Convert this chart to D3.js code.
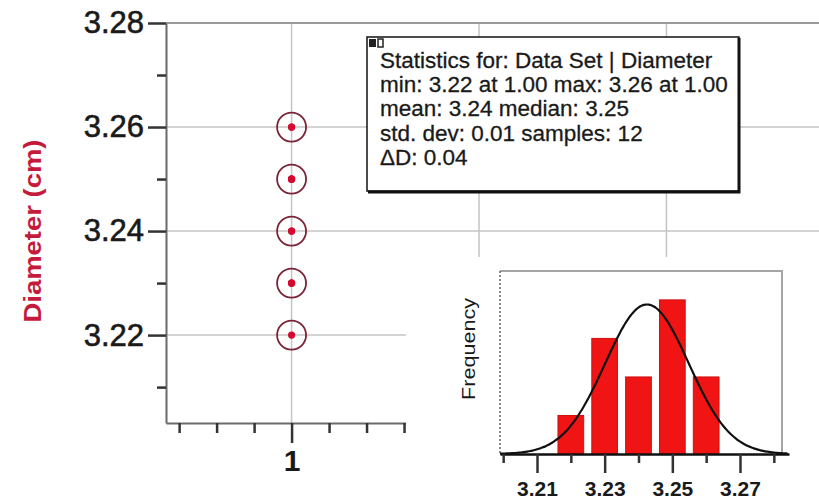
<html>
  <head>
    <meta charset="utf-8">
    <title>Diameter statistics</title>
  </head>
<style>
  body { margin: 0; background: #fff; }
  text { font-family: "Liberation Sans", Arial, sans-serif; }
</style>
  <body>
    <script src="https://d3js.org/d3.v7.min.js" charset="utf-8"></script>
    <script>

    var width = 819,
        height = 502;

    // 12 measurements, all taken at run 1
    var runs = [1, 1, 1, 1, 1, 1, 1, 1, 1, 1, 1, 1];
    var diameters = [3.22, 3.23, 3.23, 3.23, 3.24, 3.24, 3.25, 3.25, 3.25, 3.25, 3.26, 3.26];

    // histogram of the same data
    var binCenters = [3.22, 3.23, 3.24, 3.25, 3.26];
    var binCounts = [1, 3, 2, 4, 2];
    var binWidth = 0.01;

    var yMajor = [3.22, 3.24, 3.26, 3.28];
    var yMinor = [3.21, 3.23, 3.25, 3.27];
    var xTicks = [0.7, 0.8, 0.9, 1.0, 1.1, 1.2, 1.3];
    var xGrid = [1.0, 1.5, 2.0];
    var hMajor = [3.21, 3.23, 3.25, 3.27];
    var hMinor = [3.20, 3.22, 3.24, 3.26, 3.28];

    var statsLines = [
      "Statistics for: Data Set | Diameter",
      "min: 3.22 at 1.00 max: 3.26 at 1.00",
      "mean: 3.24 median: 3.25",
      "std. dev: 0.01 samples: 12",
      "\u0394D: 0.04"
    ];

    var svg = d3.select("body").append("svg")
        .attr("width", width)
        .attr("height", height);

    var x = d3.scaleLinear().domain([0.665, 2.415]).range([166, 822]);
    var y = d3.scaleLinear().domain([3.2031, 3.28]).range([423, 23]);

    // grid
    svg.selectAll(".hgrid").data(yMajor.slice(0, 3)).enter().append("line")
        .attr("x1", 166).attr("x2", width)
        .attr("y1", function(d){ return y(d); }).attr("y2", function(d){ return y(d); })
        .attr("stroke", "#c4c4c4").attr("stroke-width", 1.5);
    svg.selectAll(".vgrid").data(xGrid).enter().append("line")
        .attr("x1", function(d){ return x(d); }).attr("x2", function(d){ return x(d); })
        .attr("y1", 23).attr("y2", 423)
        .attr("stroke", "#c4c4c4").attr("stroke-width", 1.5);
    svg.append("line")
        .attr("x1", 166).attr("x2", width).attr("y1", 23).attr("y2", 23)
        .attr("stroke", "#9a9a9a").attr("stroke-width", 2);

    // y axis
    var yAxis = svg.append("g").attr("transform", "translate(166,0)")
        .call(d3.axisLeft(y).tickValues(yMajor).tickFormat(d3.format(".2f")).tickSize(18).tickSizeOuter(0));
    svg.append("g").attr("transform", "translate(166,0)")
        .call(d3.axisLeft(y).tickValues(yMinor).tickFormat("").tickSize(9).tickSizeOuter(0))
        .select(".domain").remove();
    yAxis.selectAll("text").attr("font-size", 31).attr("fill", "#1a1a1a").attr("dx", "-1")
        .attr("stroke", "#1a1a1a").attr("stroke-width", 0.6);

    // x axis
    var xa = x.copy().domain([0.665, 1.306]).range([166, x(1.306)]);
    var xAxis = svg.append("g").attr("transform", "translate(0,423)")
        .call(d3.axisBottom(xa).tickValues(xTicks).tickSize(10).tickSizeOuter(0)
          .tickFormat(function(d){ return d === 1 ? "1" : ""; }));
    xAxis.selectAll(".tick line").attr("y2", function(d){ return d === 1 ? 20 : 10; });
    xAxis.selectAll("text").attr("font-size", 30).attr("font-weight", "bold").attr("fill", "#1a1a1a").attr("dy", "1.15em");

    svg.selectAll(".domain").attr("stroke", "#6a6a6a").attr("stroke-width", 2);
    svg.selectAll(".tick line").attr("stroke", "#333").attr("stroke-width", 2.5);

    svg.append("text")
        .attr("transform", "translate(41,231) rotate(-90)")
        .attr("text-anchor", "middle")
        .attr("font-size", 24).attr("font-weight", "bold")
        .attr("textLength", 183).attr("lengthAdjust", "spacingAndGlyphs")
        .attr("fill", "#c41a3c")
        .text("Diameter (cm)");

    // points (repeated values sit on top of each other)
    var uniq = Array.from(new Set(diameters));
    svg.selectAll(".ring").data(uniq).enter().append("circle")
        .attr("cx", x(runs[0]))
        .attr("cy", function(d){ return y(d); })
        .attr("r", 14.5)
        .attr("fill", "none").attr("stroke", "#7a2438").attr("stroke-width", 1.8);
    svg.selectAll(".dot").data(diameters).enter().append("circle")
        .attr("cx", function(d, i){ return x(runs[i]); })
        .attr("cy", function(d){ return y(d); })
        .attr("r", 3.6)
        .attr("fill", "#d20a30");

    // stats box
    var box = svg.append("g");
    box.append("rect").attr("x", 367).attr("y", 37).attr("width", 372).attr("height", 154)
        .attr("fill", "#fff").attr("stroke", "#111").attr("stroke-width", 1.5);
    box.append("path").attr("d", "M739,38 V192 H368")
        .attr("fill", "none").attr("stroke", "#111").attr("stroke-width", 3);
    box.append("rect").attr("x", 369).attr("y", 39).attr("width", 7).attr("height", 8).attr("fill", "#222");
    box.append("rect").attr("x", 378).attr("y", 39).attr("width", 5).attr("height", 8)
        .attr("fill", "#fff").attr("stroke", "#222").attr("stroke-width", 1.5);
    box.selectAll(".sline").data(statsLines).enter().append("text")
        .attr("x", 380)
        .attr("y", function(d, i){ return 68 + i * 24.2; })
        .attr("font-size", 22.5).attr("fill", "#1a1a1a")
        .attr("stroke", "#1a1a1a").attr("stroke-width", 0.3)
        .text(function(d){ return d; });

    // histogram inset
    svg.append("rect").attr("x", 406).attr("y", 257).attr("width", width - 406).attr("height", height - 257)
        .attr("fill", "#fff");

    var hx = d3.scaleLinear().domain([3.21, 3.27]).range([537, 740]);
    var hy = d3.scaleLinear().domain([0, 4.75]).range([454, 271]);

    svg.append("path").attr("d", "M500,271 H782 V454")
        .attr("fill", "none").attr("stroke", "#a5a5a5").attr("stroke-width", 2);
    svg.append("line").attr("x1", 500).attr("x2", 500).attr("y1", 271).attr("y2", 454)
        .attr("stroke", "#666").attr("stroke-width", 1.5).attr("stroke-dasharray", "2,2");

    svg.selectAll(".bar").data(binCenters).enter().append("rect")
        .attr("x", function(d){ return hx(d - binWidth * 0.38); })
        .attr("width", function(d){ return hx(d + binWidth * 0.38) - hx(d - binWidth * 0.38); })
        .attr("y", function(d, i){ return hy(binCounts[i]); })
        .attr("height", function(d, i){ return hy(0) - hy(binCounts[i]); })
        .attr("fill", "#f01414").attr("stroke", "#d01010").attr("stroke-width", 1);

    // normal curve fitted to the samples
    var mu = d3.mean(diameters);
    var sigma = Math.sqrt(d3.mean(diameters, function(d){ return (d - mu) * (d - mu); }));
    var n = diameters.length;
    var curveX = d3.range(hx.invert(500), hx.invert(789), 0.0005);
    var line = d3.line()
        .x(function(d){ return hx(d); })
        .y(function(d){ return hy(n * binWidth * Math.exp(-0.5 * Math.pow((d - mu) / sigma, 2)) / (sigma * Math.sqrt(2 * Math.PI))); })
        .curve(d3.curveBasis);
    svg.append("path").datum(curveX).attr("d", line)
        .attr("fill", "none").attr("stroke", "#111").attr("stroke-width", 2.2);

    var hxa = hx.copy().domain([hx.invert(500), hx.invert(789)]).range([500, 789]);
    var hAxis = svg.append("g").attr("transform", "translate(0,454)")
        .call(d3.axisBottom(hxa).tickValues(hMajor).tickFormat(d3.format(".2f")).tickSize(19).tickSizeOuter(0));
    svg.append("g").attr("transform", "translate(0,454)")
        .call(d3.axisBottom(hxa).tickValues(hMinor).tickFormat("").tickSize(9).tickSizeOuter(0))
        .select(".domain").remove();
    hAxis.select(".domain").attr("stroke", "#111").attr("stroke-width", 2.5);
    hAxis.selectAll("text").attr("font-size", 21).attr("font-weight", "bold").attr("fill", "#1a1a1a").attr("dy", "0.95em");
    svg.selectAll(".tick line").attr("stroke", "#333").attr("stroke-width", 2.5);

    svg.append("text")
        .attr("transform", "translate(475,349) rotate(-90)")
        .attr("text-anchor", "middle")
        .attr("font-size", 18)
        .attr("textLength", 102).attr("lengthAdjust", "spacingAndGlyphs")
        .attr("fill", "#1a1a1a")
        .text("Frequency");

    </script>
  </body>
</html>
